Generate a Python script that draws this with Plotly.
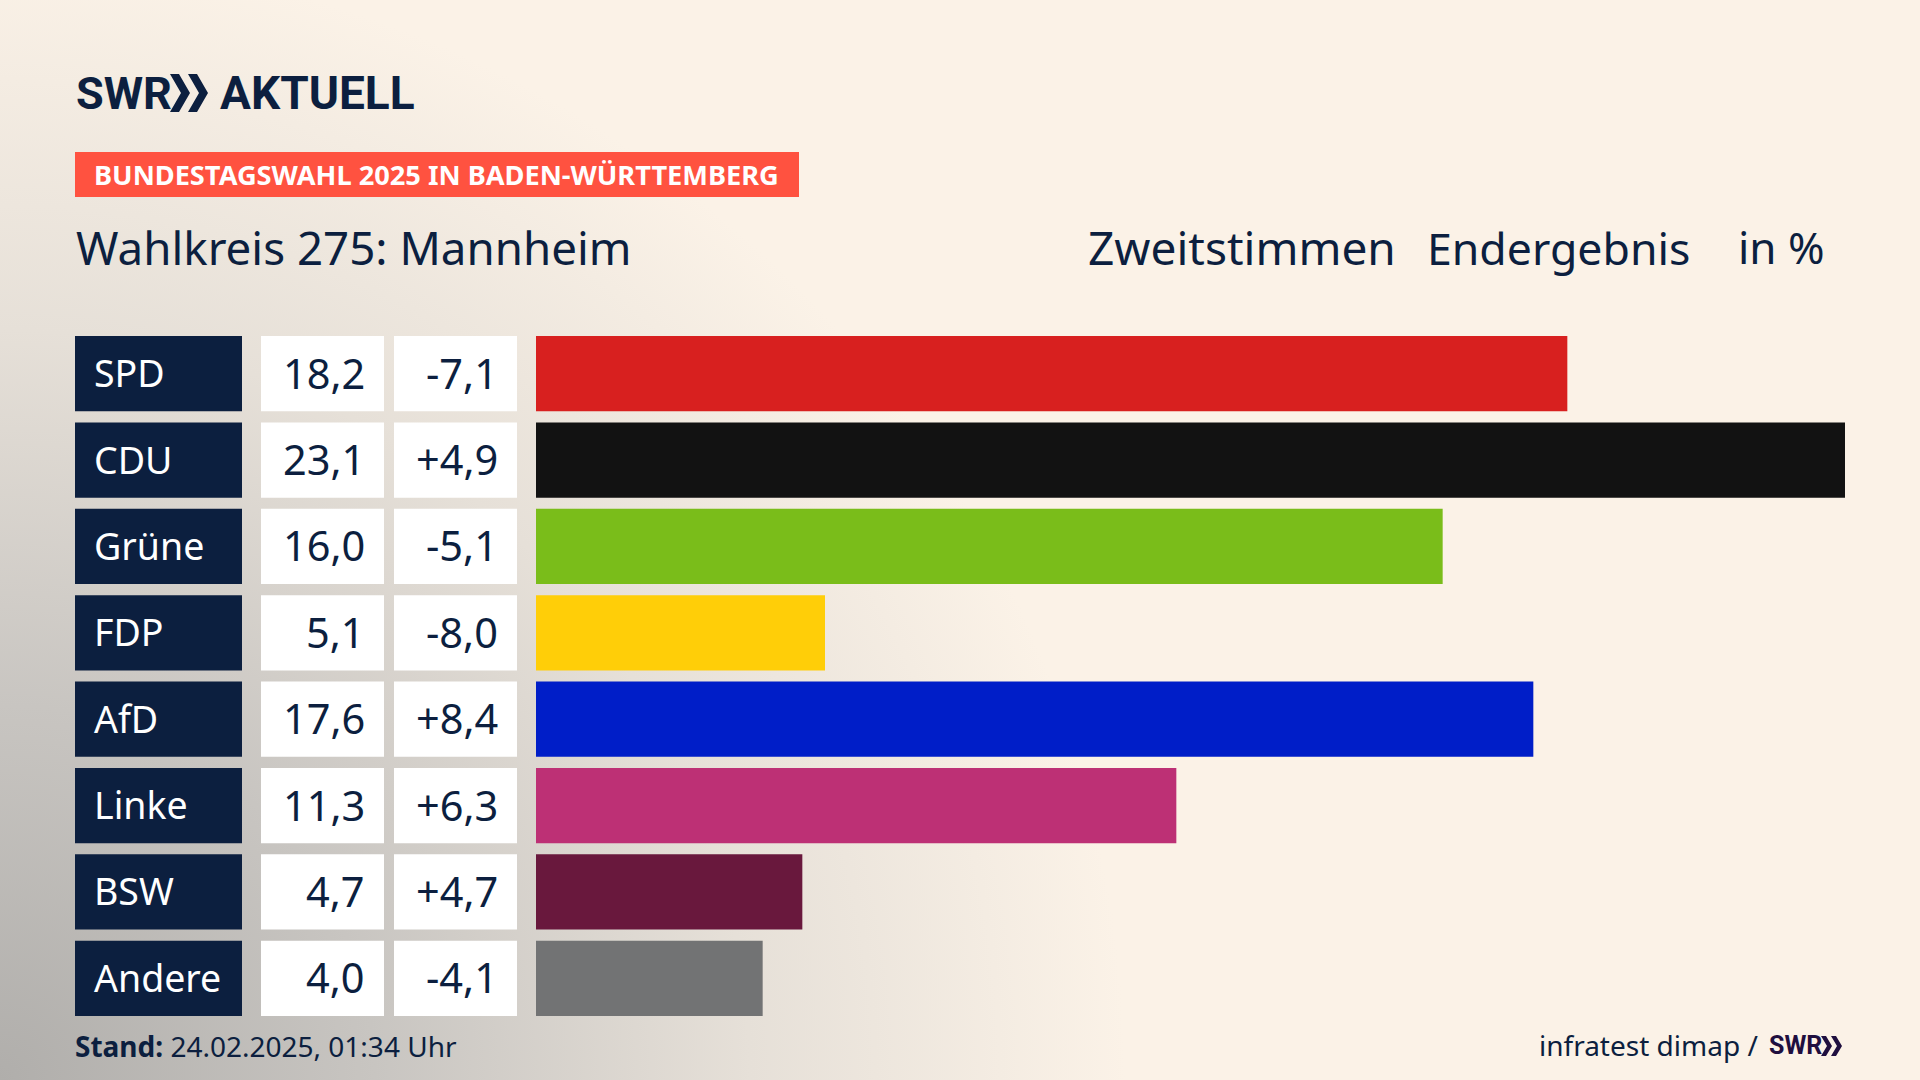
import plotly.graph_objects as go

# Werte aus der Grafik
parteien = ['SPD', 'CDU', 'Grüne', 'FDP', 'AfD', 'Linke', 'BSW', 'Andere']
werte = [18.2, 23.1, 16.0, 5.1, 17.6, 11.3, 4.7, 4.0]
werte_text = ['18,2', '23,1', '16,0', '5,1', '17,6', '11,3', '4,7', '4,0']
diff_text = ['-7,1', '+4,9', '-5,1', '-8,0', '+8,4', '+6,3', '+4,7', '-4,1']
farben = ['#d8201f', '#121212', '#7abd1a', '#ffce08', '#001ec8', '#bd3075', '#69183d', '#727374']

W, H = 1920, 1080
NAVY = '#0c1f3f'
CREME = '#fbf2e7'
FONT = 'Noto Sans'
LOGO = 'Roboto'


def dom_x(a, b):
    return [a / W, b / W]


fig = go.Figure()

# Hintergrund: grauer Verlauf von unten links
fig.add_trace(go.Scatter(
    x=[-1250, 1250, 1250, -1250, -1250],
    y=[-170, -170, 2330, 2330, -170],
    mode='lines', fill='toself', line=dict(width=0),
    fillgradient=dict(type='radial', colorscale=[
        [0, '#b0aeab'], [0.3, '#c8c5c1'], [0.6, '#e6e0d8'], [0.9, CREME], [1, CREME]]),
    hoverinfo='skip', showlegend=False,
))

# Spalten: Partei, Wert, Differenz, Balken
n = len(parteien)
spalten = [('x2', [1] * n, [NAVY] * n), ('x3', [1] * n, ['white'] * n), ('x4', [1] * n, ['white'] * n),
           ('x5', werte, farben)]
for ax, xs, cols in spalten:
    fig.add_trace(go.Bar(y=parteien, x=xs, orientation='h', xaxis=ax, yaxis='y2',
                         marker=dict(color=cols, line=dict(width=0)),
                         hoverinfo='skip', showlegend=False))

# Tabellentexte
for i, p in enumerate(parteien):
    fig.add_annotation(x=92, y=p, xref='x', yref='y2', text=p, showarrow=False, xanchor='left', yshift=1,
                       font=dict(family=FONT, size=37.5, color='white'))
    fig.add_annotation(x=367, y=p, xref='x', yref='y2', text=werte_text[i], showarrow=False, xanchor='right',
                       yshift=1, font=dict(family=FONT, size=41.5, color=NAVY))
    fig.add_annotation(x=500, y=p, xref='x', yref='y2', text=diff_text[i], showarrow=False, xanchor='right',
                       yshift=1, font=dict(family=FONT, size=41.5, color=NAVY))


def txt(x, y, s, size, color=NAVY, anchor='left', family=FONT):
    fig.add_annotation(x=x, y=y, xref='x', yref='y', text=s, showarrow=False, xanchor=anchor, yanchor='middle',
                       font=dict(family=family, size=size, color=color))


# Kopf
txt(74, 93, '<b>SWR</b>', 45, family=LOGO)
txt(218, 93, '<b>AKTUELL</b>', 46, family=LOGO)
txt(92, 174, '<b>BUNDESTAGSWAHL 2025 IN BADEN-WÜRTTEMBERG</b>', 27.2, color='white')
txt(74, 247, 'Wahlkreis 275: Mannheim', 45.7)
txt(1086, 247, 'Zweitstimmen', 46)
txt(1425, 247, 'Endergebnis', 44.6)
txt(1736, 247, 'in %', 44)

# Fuss
txt(73, 1046, '<b>Stand:</b> 24.02.2025, 01:34 Uhr', 28)
txt(1537, 1045, 'infratest dimap /', 28)
txt(1767, 1045, '<b>SWR</b>', 25, color='#1f0f3f', family=LOGO)


def chevron(x, y0, y1, w, t, color):
    m = (y0 + y1) / 2
    return dict(type='path', xref='x', yref='y', fillcolor=color, line=dict(width=0),
                path=f'M{x} {y0} L{x + t} {y0} L{x + w} {m} L{x + t} {y1} L{x} {y1} L{x + w - t} {m} Z')


shapes = [
    dict(type='rect', xref='x', yref='y', x0=75, x1=799, y0=152, y1=197, fillcolor='#ff5240',
         line=dict(width=0)),
    chevron(170, 74, 112, 20, 9, NAVY),
    chevron(188, 74, 112, 20, 9, NAVY),
    chevron(1821, 1036, 1056, 11, 5, '#1f0f3f'),
    chevron(1831, 1036, 1056, 11, 5, '#1f0f3f'),
]

hidden = dict(visible=False, fixedrange=True)
fig.update_layout(
    width=W, height=H, autosize=False,
    margin=dict(l=0, r=0, t=0, b=0, pad=0),
    paper_bgcolor=CREME, plot_bgcolor='rgba(0,0,0,0)',
    showlegend=False, bargap=0.13, shapes=shapes,
    xaxis=dict(range=[0, W], domain=[0, 1], **hidden),
    yaxis=dict(range=[H, 0], domain=[0, 1], **hidden),
    yaxis2=dict(domain=[1 - 1021.5 / H, 1 - 330.5 / H], autorange='reversed', type='category', anchor='x2', **hidden),
    xaxis2=dict(domain=dom_x(75, 242), range=[0, 1], anchor='y2', **hidden),
    xaxis3=dict(domain=dom_x(261, 384), range=[0, 1], anchor='y2', **hidden),
    xaxis4=dict(domain=dom_x(394, 517), range=[0, 1], anchor='y2', **hidden),
    xaxis5=dict(domain=dom_x(536, 1845), range=[0, 23.1], anchor='y2', **hidden),
)

fig.write_html("out.html", config=dict(displayModeBar=False), post_script="document.body.style.margin='0';")
